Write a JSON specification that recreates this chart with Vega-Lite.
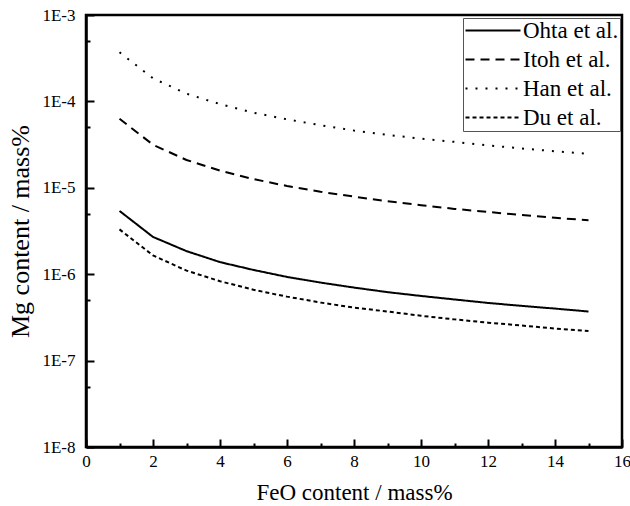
{
  "$schema": "https://vega.github.io/schema/vega-lite/v6.json",
  "width": 536,
  "height": 432,
  "autosize": "none",
  "padding": {"left": 86, "top": 15, "right": 8, "bottom": 59},
  "background": "white",
  "config": {
    "view": {"stroke": "black", "strokeWidth": 2.5},
    "font": "Times New Roman, Liberation Serif, DejaVu Serif, serif"
  },
  "data": {
    "values": [
      {"x": 1, "y": 5.4e-6, "s": "Ohta et al."},
      {"x": 2, "y": 2.7e-6, "s": "Ohta et al."},
      {"x": 3, "y": 1.85e-6, "s": "Ohta et al."},
      {"x": 4, "y": 1.38e-6, "s": "Ohta et al."},
      {"x": 5, "y": 1.12e-6, "s": "Ohta et al."},
      {"x": 6, "y": 9.3e-7, "s": "Ohta et al."},
      {"x": 7, "y": 8.0e-7, "s": "Ohta et al."},
      {"x": 8, "y": 7.0e-7, "s": "Ohta et al."},
      {"x": 9, "y": 6.2e-7, "s": "Ohta et al."},
      {"x": 10, "y": 5.6e-7, "s": "Ohta et al."},
      {"x": 11, "y": 5.1e-7, "s": "Ohta et al."},
      {"x": 12, "y": 4.65e-7, "s": "Ohta et al."},
      {"x": 13, "y": 4.3e-7, "s": "Ohta et al."},
      {"x": 14, "y": 4.0e-7, "s": "Ohta et al."},
      {"x": 15, "y": 3.7e-7, "s": "Ohta et al."},
      {"x": 1, "y": 6.3e-5, "s": "Itoh et al."},
      {"x": 2, "y": 3.15e-5, "s": "Itoh et al."},
      {"x": 3, "y": 2.1e-5, "s": "Itoh et al."},
      {"x": 4, "y": 1.58e-5, "s": "Itoh et al."},
      {"x": 5, "y": 1.26e-5, "s": "Itoh et al."},
      {"x": 6, "y": 1.05e-5, "s": "Itoh et al."},
      {"x": 7, "y": 9.0e-6, "s": "Itoh et al."},
      {"x": 8, "y": 7.9e-6, "s": "Itoh et al."},
      {"x": 9, "y": 7.0e-6, "s": "Itoh et al."},
      {"x": 10, "y": 6.3e-6, "s": "Itoh et al."},
      {"x": 11, "y": 5.7e-6, "s": "Itoh et al."},
      {"x": 12, "y": 5.25e-6, "s": "Itoh et al."},
      {"x": 13, "y": 4.85e-6, "s": "Itoh et al."},
      {"x": 14, "y": 4.5e-6, "s": "Itoh et al."},
      {"x": 15, "y": 4.2e-6, "s": "Itoh et al."},
      {"x": 1, "y": 3.7e-4, "s": "Han et al."},
      {"x": 2, "y": 1.85e-4, "s": "Han et al."},
      {"x": 3, "y": 1.23e-4, "s": "Han et al."},
      {"x": 4, "y": 9.3e-5, "s": "Han et al."},
      {"x": 5, "y": 7.4e-5, "s": "Han et al."},
      {"x": 6, "y": 6.2e-5, "s": "Han et al."},
      {"x": 7, "y": 5.3e-5, "s": "Han et al."},
      {"x": 8, "y": 4.6e-5, "s": "Han et al."},
      {"x": 9, "y": 4.1e-5, "s": "Han et al."},
      {"x": 10, "y": 3.7e-5, "s": "Han et al."},
      {"x": 11, "y": 3.4e-5, "s": "Han et al."},
      {"x": 12, "y": 3.1e-5, "s": "Han et al."},
      {"x": 13, "y": 2.85e-5, "s": "Han et al."},
      {"x": 14, "y": 2.65e-5, "s": "Han et al."},
      {"x": 15, "y": 2.47e-5, "s": "Han et al."},
      {"x": 1, "y": 3.3e-6, "s": "Du et al."},
      {"x": 2, "y": 1.65e-6, "s": "Du et al."},
      {"x": 3, "y": 1.1e-6, "s": "Du et al."},
      {"x": 4, "y": 8.3e-7, "s": "Du et al."},
      {"x": 5, "y": 6.6e-7, "s": "Du et al."},
      {"x": 6, "y": 5.5e-7, "s": "Du et al."},
      {"x": 7, "y": 4.7e-7, "s": "Du et al."},
      {"x": 8, "y": 4.1e-7, "s": "Du et al."},
      {"x": 9, "y": 3.7e-7, "s": "Du et al."},
      {"x": 10, "y": 3.3e-7, "s": "Du et al."},
      {"x": 11, "y": 3.0e-7, "s": "Du et al."},
      {"x": 12, "y": 2.75e-7, "s": "Du et al."},
      {"x": 13, "y": 2.55e-7, "s": "Du et al."},
      {"x": 14, "y": 2.35e-7, "s": "Du et al."},
      {"x": 15, "y": 2.2e-7, "s": "Du et al."}
    ]
  },
  "mark": {"type": "line", "color": "black", "strokeWidth": 2, "clip": true},
  "encoding": {
    "x": {
      "field": "x",
      "type": "quantitative",
      "scale": {"domain": [0, 16], "nice": false, "zero": false},
      "axis": {
        "title": "FeO content / mass%",
        "titleFont": "Times New Roman, Liberation Serif, DejaVu Serif, serif",
        "titleFontSize": 23,
        "titleFontWeight": "normal",
        "titleColor": "black",
        "titlePadding": 8,
        "values": [0,1,2,3,4,5,6,7,8,9,10,11,12,13,14,15,16],
        "labelExpr": "datum.value % 2 === 0 ? datum.label : ''",
        "labelFont": "Times New Roman, Liberation Serif, DejaVu Serif, serif",
        "labelFontSize": 17,
        "labelColor": "black",
        "labelPadding": 14,
        "labelFlush": false,
        "labelOverlap": false,
        "grid": false,
        "domainColor": "black",
        "domainWidth": 2.5,
        "tickColor": "black",
        "tickWidth": 2,
        "tickSize": {"condition": {"test": "datum.value % 2 === 1", "value": -4}, "value": -8}
      }
    },
    "y": {
      "field": "y",
      "type": "quantitative",
      "scale": {"type": "log", "domain": [1e-8, 1e-3], "nice": false},
      "axis": {
        "title": "Mg content / mass%",
        "titleFont": "Times New Roman, Liberation Serif, DejaVu Serif, serif",
        "titleFontSize": 26,
        "titleFontWeight": "normal",
        "titleColor": "black",
        "titlePadding": 8,
        "values": [1e-8, 5e-8, 1e-7, 5e-7, 1e-6, 5e-6, 1e-5, 5e-5, 1e-4, 5e-4, 1e-3],
        "labelExpr": "abs(log(datum.value)/LN10 - round(log(datum.value)/LN10)) < 0.01 ? '1E' + round(log(datum.value)/LN10) : ''",
        "labelFont": "Times New Roman, Liberation Serif, DejaVu Serif, serif",
        "labelFontSize": 17,
        "labelColor": "black",
        "labelPadding": 19,
        "labelFlush": false,
        "labelOverlap": false,
        "grid": false,
        "domainColor": "black",
        "domainWidth": 2.5,
        "tickColor": "black",
        "tickWidth": 2,
        "tickSize": {"condition": {"test": "abs(log(datum.value)/LN10 - round(log(datum.value)/LN10)) > 0.01", "value": -4}, "value": -8}
      }
    },
    "strokeDash": {
      "field": "s",
      "type": "nominal",
      "scale": {
        "domain": ["Ohta et al.", "Itoh et al.", "Han et al.", "Du et al."],
        "range": [[1, 0], [9, 6], [2, 8], [4, 3]]
      },
      "legend": {
        "title": null,
        "orient": "none",
        "legendX": 377,
        "legendY": 3,
        "fillColor": "white",
        "strokeColor": "#555555",
        "padding": 1,
        "symbolType": "M-1,0H4.5",
        "symbolSize": 400,
        "symbolStrokeWidth": 2,
        "symbolStrokeColor": "black",
        "labelFont": "Times New Roman, Liberation Serif, DejaVu Serif, serif",
        "labelFontSize": 23,
        "labelColor": "black",
        "labelOffset": 36,
        "labelLimit": 200,
        "rowPadding": 5
      }
    }
  }
}
